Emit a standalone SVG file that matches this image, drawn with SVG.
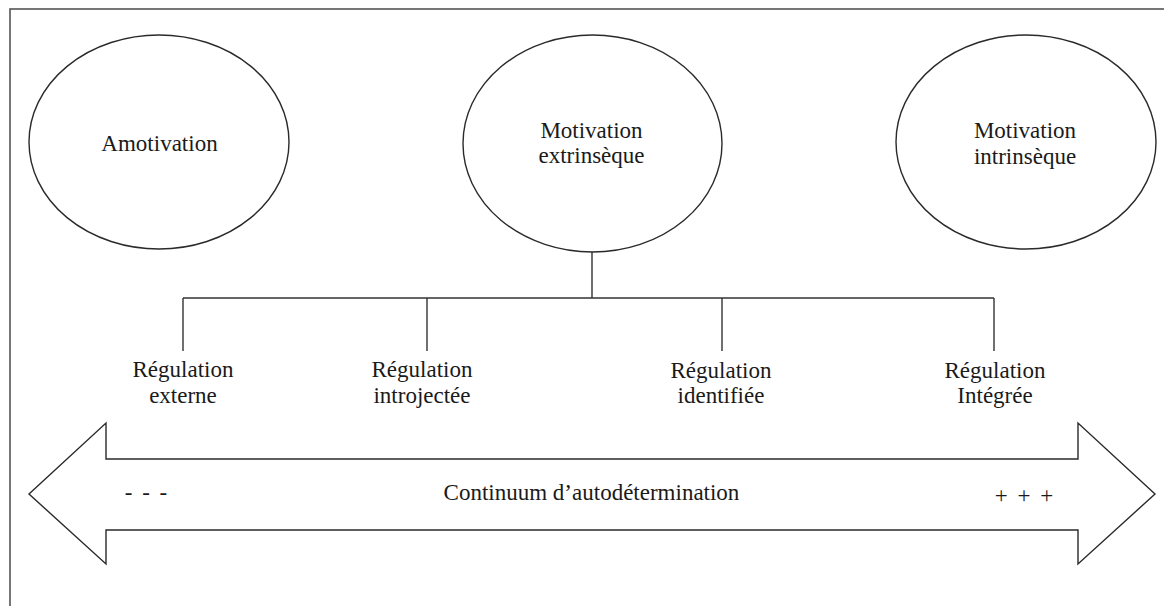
<svg xmlns="http://www.w3.org/2000/svg" width="1164" height="606" viewBox="0 0 1164 606">
<style>
.frame{fill:none;stroke:#555;stroke-width:1.6}
.shape{fill:#fff;stroke:#2a2a2a;stroke-width:1.4}
.ln{fill:none;stroke:#333;stroke-width:1.4}
text{font-family:"Liberation Serif","Times New Roman",serif;font-size:23px;fill:#1a1a1a;text-anchor:middle}
.sym{word-spacing:4px}
</style>
<rect width="1164" height="606" fill="#fff"/>
<rect class="frame" x="10" y="9" width="1170" height="620"/>
<g id="connectors">
<line class="ln" x1="592" y1="252" x2="592" y2="298"/>
<line class="ln" x1="183" y1="298" x2="994" y2="298"/>
<line class="ln" x1="183" y1="298" x2="183" y2="351"/>
<line class="ln" x1="427" y1="298" x2="427" y2="351"/>
<line class="ln" x1="722" y1="298" x2="722" y2="351"/>
<line class="ln" x1="994" y1="298" x2="994" y2="351"/>
</g>
<g id="amotivation">
<ellipse class="shape" cx="159" cy="142" rx="130" ry="107"/>
<text x="159.5" y="151">Amotivation</text>
</g>
<g id="extrinseque">
<ellipse class="shape" cx="592.5" cy="143.5" rx="129.5" ry="108.5"/>
<text x="591.5" y="138">Motivation</text>
<text x="591.5" y="163">extrinsèque</text>
</g>
<g id="intrinseque">
<ellipse class="shape" cx="1026" cy="142" rx="130" ry="107"/>
<text x="1025" y="138">Motivation</text>
<text x="1025" y="164">intrinsèque</text>
</g>
<g id="reg-externe">
<text x="183" y="377">Régulation</text>
<text x="183" y="403">externe</text>
</g>
<g id="reg-introjectee">
<text x="422" y="377">Régulation</text>
<text x="422" y="403">introjectée</text>
</g>
<g id="reg-identifiee">
<text x="721" y="378">Régulation</text>
<text x="721" y="403">identifiée</text>
</g>
<g id="reg-integree">
<text x="995" y="378">Régulation</text>
<text x="995" y="403">Intégrée</text>
</g>
<g id="continuum">
<polygon class="shape" points="29,494 106,423 106,459 1078,459 1078,423 1155,494 1078,564 1078,530 106,530 106,564"/>
<text class="sym" x="146" y="500">- - -</text>
<text x="591.5" y="500">Continuum d’autodétermination</text>
<text class="sym" x="1024" y="503" font-size="25">+ + +</text>
</g>
</svg>
